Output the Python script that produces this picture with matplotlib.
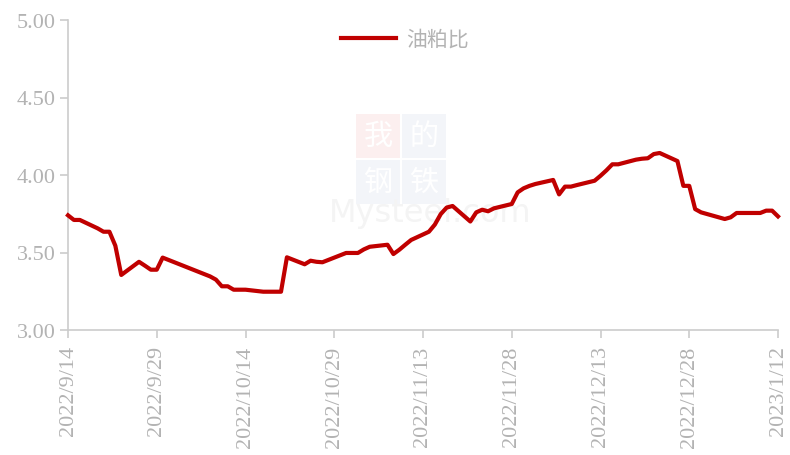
import matplotlib
matplotlib.use("Agg")
import matplotlib.pyplot as plt
from matplotlib.patches import Rectangle
import pandas as pd

dates = ["2022-09-14", "2022-09-15", "2022-09-16", "2022-09-19", "2022-09-20", "2022-09-21",
         "2022-09-22", "2022-09-23", "2022-09-26", "2022-09-27", "2022-09-28", "2022-09-29",
         "2022-09-30", "2022-10-08", "2022-10-09", "2022-10-10", "2022-10-11", "2022-10-12",
         "2022-10-13", "2022-10-14", "2022-10-17", "2022-10-18", "2022-10-19", "2022-10-20",
         "2022-10-21", "2022-10-24", "2022-10-25", "2022-10-26", "2022-10-27", "2022-10-28",
         "2022-10-31", "2022-11-01", "2022-11-02", "2022-11-03", "2022-11-04", "2022-11-07",
         "2022-11-08", "2022-11-09", "2022-11-10", "2022-11-11", "2022-11-14", "2022-11-15",
         "2022-11-16", "2022-11-17", "2022-11-18", "2022-11-21", "2022-11-22", "2022-11-23",
         "2022-11-24", "2022-11-25", "2022-11-28", "2022-11-29", "2022-11-30", "2022-12-01",
         "2022-12-02", "2022-12-05", "2022-12-06", "2022-12-07", "2022-12-08", "2022-12-09",
         "2022-12-12", "2022-12-13", "2022-12-14", "2022-12-15", "2022-12-16", "2022-12-19",
         "2022-12-20", "2022-12-21", "2022-12-22", "2022-12-23", "2022-12-26", "2022-12-27",
         "2022-12-28", "2022-12-29", "2022-12-30", "2023-01-03", "2023-01-04", "2023-01-05",
         "2023-01-06", "2023-01-09", "2023-01-10", "2023-01-11", "2023-01-12"]
ratio = [3.74, 3.71, 3.71, 3.656, 3.634, 3.634,
         3.544, 3.355, 3.44, 3.415, 3.389, 3.389,
         3.467, 3.346, 3.325, 3.282, 3.282, 3.26,
         3.26, 3.26, 3.247, 3.247, 3.247, 3.247,
         3.469, 3.424, 3.447, 3.44, 3.437, 3.452,
         3.497, 3.497, 3.497, 3.52, 3.537, 3.55,
         3.49, 3.518, 3.55, 3.581, 3.634, 3.68,
         3.748, 3.79, 3.80, 3.70, 3.759, 3.776,
         3.766, 3.785, 3.813, 3.888, 3.914, 3.93,
         3.942, 3.968, 3.875, 3.925, 3.925, 3.935,
         3.963, 3.995, 4.03, 4.069, 4.069, 4.099,
         4.105, 4.108, 4.135, 4.142, 4.09, 3.93,
         3.93, 3.78, 3.759, 3.716, 3.727, 3.755,
         3.755, 3.755, 3.77, 3.77, 3.733]
tick_dates = ["2022-09-14", "2022-09-29", "2022-10-14", "2022-10-29", "2022-11-13",
              "2022-11-28", "2022-12-13", "2022-12-28", "2023-01-12"]
tick_labels = ["2022/9/14", "2022/9/29", "2022/10/14", "2022/10/29", "2022/11/13",
               "2022/11/28", "2022/12/13", "2022/12/28", "2023/1/12"]
y_ticks = [3.00, 3.50, 4.00, 4.50, 5.00]
series_name = "油粕比"
wm_chars = ["我", "的", "钢", "铁"]

x = pd.to_datetime(dates)
xt = pd.to_datetime(tick_dates)

W, H = 790, 456
fig = plt.figure(figsize=(7.9, 4.56), dpi=100)
ax = fig.add_axes([68 / W, 1 - 331 / H, (778 - 68) / W, (331 - 21) / H])

axis_col = "#cccccc"
text_col = "#b3b3b3"

# faint watermark (behind the line)
tile_cols = ["#fcefef", "#f3f5f9", "#f3f5f9", "#f3f5f9"]
tile = 44
for i, ch in enumerate(wm_chars):
    cx = 356 + (i % 2) * (tile + 2)
    cy = 115 + (i // 2) * (tile + 2)
    ax.add_patch(Rectangle((cx / W, 1 - (cy + tile) / H), tile / W, tile / H,
                           transform=fig.transFigure, facecolor=tile_cols[i], edgecolor="none",
                           zorder=0))
    ax.text((cx + tile / 2) / W, 1 - (cy + tile / 2) / H, ch, fontsize=21, color="white",
            ha="center", va="center", family=["Noto Sans CJK SC", "DejaVu Sans"],
            transform=fig.transFigure, zorder=0.5)
ax.text(430 / W, 1 - 214 / H, "Mysteel.com", fontsize=23, color="#f4f4f4", ha="center", va="center",
        family="DejaVu Sans", transform=fig.transFigure, zorder=1)

ax.plot(x, ratio, color="#C00000", lw=3.0, label=series_name, solid_joinstyle="round",
        clip_on=False, zorder=3)

ax.set_xlim(xt[0], xt[-1])
ax.set_ylim(3.0, 5.0)
ax.set_yticks(y_ticks)
ax.set_yticklabels([f"{v:.2f}" for v in y_ticks])
ax.set_xticks(xt)
ax.set_xticklabels(tick_labels, rotation=90, ha="center", va="top")

for s in ["top", "right"]:
    ax.spines[s].set_visible(False)
for s in ["left", "bottom"]:
    ax.spines[s].set_color(axis_col)
    ax.spines[s].set_linewidth(1.2)

ax.tick_params(axis="both", colors=axis_col, width=1.2, length=6, direction="out")
ax.tick_params(axis="both", labelcolor=text_col, labelsize=16)
for lab in ax.get_xticklabels() + ax.get_yticklabels():
    lab.set_family("Liberation Serif")
ax.tick_params(axis="y", pad=3)
ax.tick_params(axis="x", pad=5)

leg = ax.legend(loc="center", bbox_to_anchor=(405 / W, 1 - 40 / H), bbox_transform=fig.transFigure,
                frameon=False, handlelength=2.6, handletextpad=0.5,
                prop={"family": ["Noto Sans CJK SC", "DejaVu Sans"], "size": 15})
for t in leg.get_texts():
    t.set_color(text_col)

fig.savefig("out.png", dpi=100)
